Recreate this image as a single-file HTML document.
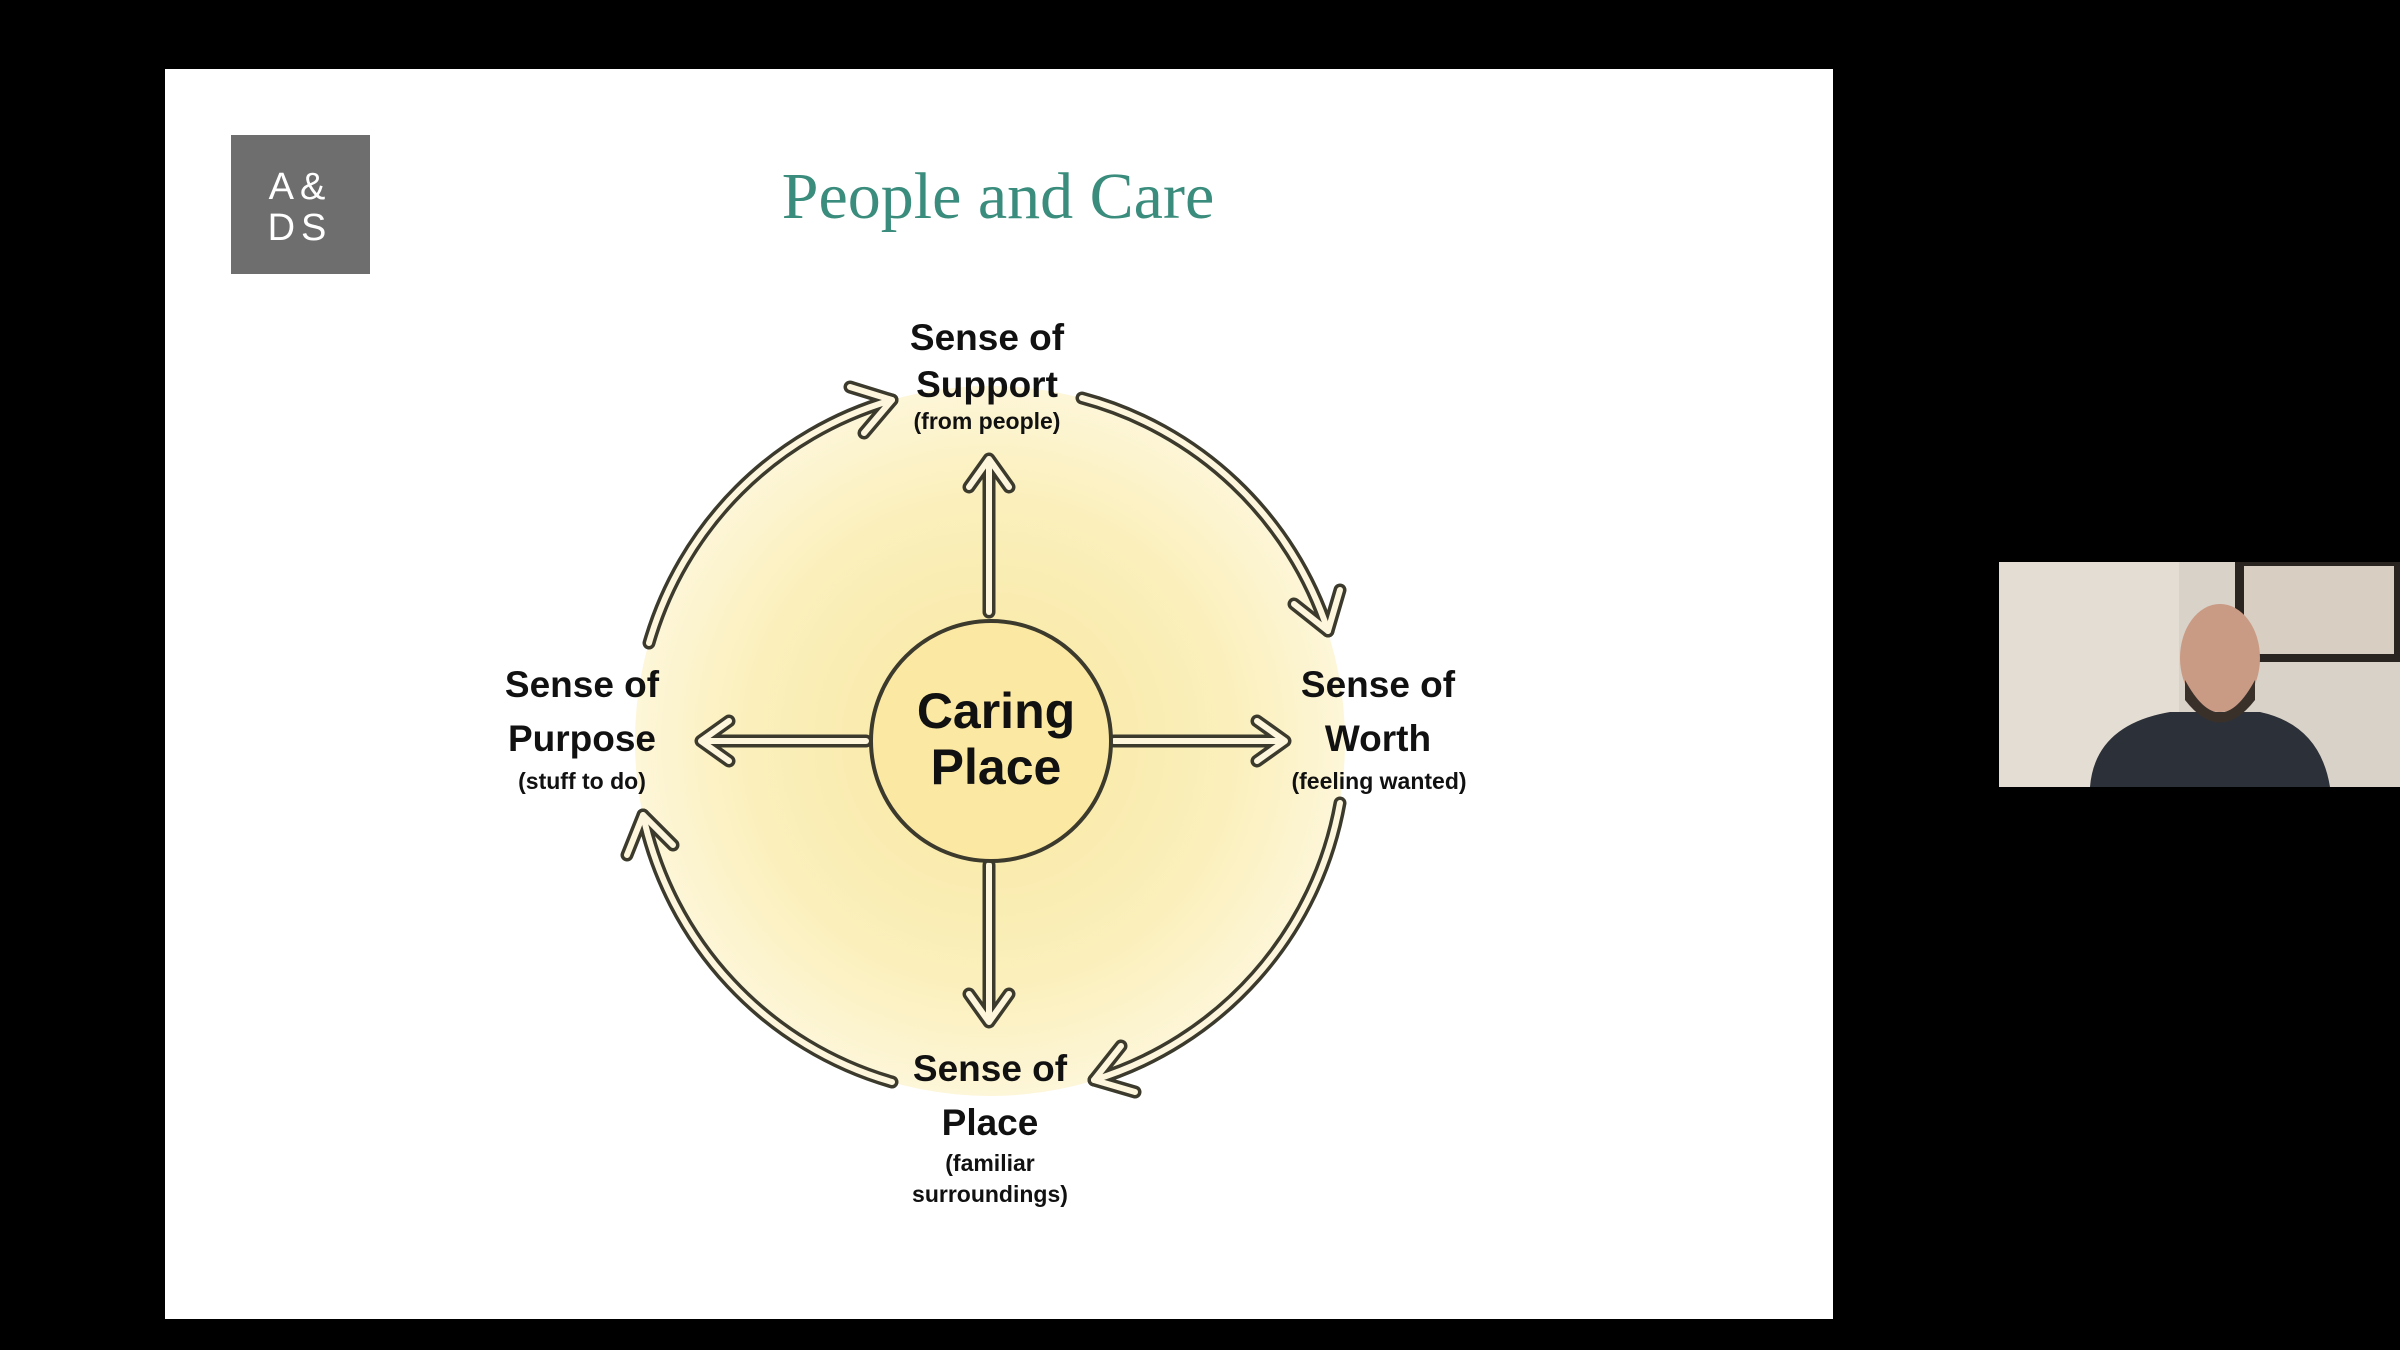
<!DOCTYPE html>
<html><head><meta charset="utf-8"><style>
html,body{margin:0;padding:0;background:#000;width:2400px;height:1350px;overflow:hidden}
svg{display:block}
</style></head><body>
<svg width="2400" height="1350" viewBox="0 0 2400 1350" xmlns="http://www.w3.org/2000/svg">
<defs>
<radialGradient id="g" cx="0.5" cy="0.5" r="0.5">
<stop offset="0" stop-color="#f8e7a0"/>
<stop offset="0.7" stop-color="#fbf0bd"/>
<stop offset="1" stop-color="#fdf6d8"/>
</radialGradient>
</defs>
<rect x="0" y="0" width="2400" height="1350" fill="#000"/>
<rect x="165" y="69" width="1668" height="1250" fill="#fff"/>
<rect x="231" y="135" width="139" height="139" fill="#6e6e6e"/>
<text x="300" y="199" text-anchor="middle" font-family="Liberation Sans, sans-serif" font-size="38" fill="#fff" letter-spacing="6">A&amp;</text>
<text x="300" y="240" text-anchor="middle" font-family="Liberation Sans, sans-serif" font-size="38" fill="#fff" letter-spacing="6">DS</text>
<text x="998" y="218" text-anchor="middle" font-family="Liberation Serif, serif" font-size="66" fill="#3a8c7c">People and Care</text>

<circle cx="990" cy="741" r="355" fill="url(#g)"/>

<g fill="none" stroke-linecap="round" stroke-linejoin="round">
<g stroke="#3b3a2c" stroke-width="13">
<path d="M649 643 A355 355 0 0 1 892 400"/>
<path d="M1082 398 A355 355 0 0 1 1328 631"/>
<path d="M1340 803 A355 355 0 0 1 1094 1080"/>
<path d="M892 1082 A355 355 0 0 1 643 815"/>
<polyline points="864,433 892,400 850,387"/>
<polyline points="1340,590 1328,631 1294,604"/>
<polyline points="1135,1092 1094,1080 1121,1046"/>
<polyline points="673,845 643,815 627,855"/>
<path d="M989 612 L989 462"/><polyline points="969,487 989,459 1009,487"/>
<path d="M1114 741 L1282 741"/><polyline points="1257,721 1285,741 1257,761"/>
<path d="M989 865 L989 1019"/><polyline points="969,994 989,1022 1009,994"/>
<path d="M866 741 L704 741"/><polyline points="729,721 701,741 729,761"/>
</g>
<g stroke="#fdf6dc" stroke-width="6">
<path d="M649 643 A355 355 0 0 1 892 400"/>
<path d="M1082 398 A355 355 0 0 1 1328 631"/>
<path d="M1340 803 A355 355 0 0 1 1094 1080"/>
<path d="M892 1082 A355 355 0 0 1 643 815"/>
<polyline points="864,433 892,400 850,387"/>
<polyline points="1340,590 1328,631 1294,604"/>
<polyline points="1135,1092 1094,1080 1121,1046"/>
<polyline points="673,845 643,815 627,855"/>
<path d="M989 612 L989 462"/><polyline points="969,487 989,459 1009,487"/>
<path d="M1114 741 L1282 741"/><polyline points="1257,721 1285,741 1257,761"/>
<path d="M989 865 L989 1019"/><polyline points="969,994 989,1022 1009,994"/>
<path d="M866 741 L704 741"/><polyline points="729,721 701,741 729,761"/>
</g>
</g>

<circle cx="991" cy="741" r="120" fill="#fbe8a2" stroke="#3b3a2c" stroke-width="4"/>

<g font-family="Liberation Sans, sans-serif" font-weight="bold" fill="#111" text-anchor="middle">
<text x="996" y="728" font-size="50">Caring</text>
<text x="996" y="784" font-size="50">Place</text>
<text x="987" y="350" font-size="37">Sense of</text>
<text x="987" y="397" font-size="37">Support</text>
<text x="987" y="429" font-size="23">(from people)</text>
<text x="582" y="697" font-size="37">Sense of</text>
<text x="582" y="751" font-size="37">Purpose</text>
<text x="582" y="789" font-size="23">(stuff to do)</text>
<text x="1378" y="697" font-size="37">Sense of</text>
<text x="1378" y="751" font-size="37">Worth</text>
<text x="1379" y="789" font-size="23">(feeling wanted)</text>
<text x="990" y="1081" font-size="37">Sense of</text>
<text x="990" y="1135" font-size="37">Place</text>
<text x="990" y="1171" font-size="23">(familiar</text>
<text x="990" y="1202" font-size="23">surroundings)</text>
</g>

<!-- webcam -->
<rect x="1999" y="562" width="401" height="225" fill="#d9d2c8"/>
<rect x="1999" y="562" width="180" height="225" fill="#e4ddd3"/>
<rect x="2235" y="562" width="165" height="100" fill="#2a2420"/>
<rect x="2244" y="566" width="150" height="88" fill="#d8cfc2"/>
<path d="M2090 787 Q2095 725 2170 712 L2260 712 Q2320 725 2330 787 Z" fill="#2c3038"/>
<ellipse cx="2220" cy="658" rx="40" ry="54" fill="#c99a84"/>
<path d="M2185 680 Q2220 745 2255 680 L2255 700 Q2220 745 2185 700 Z" fill="#3a302a"/>
</svg>
</body></html>
